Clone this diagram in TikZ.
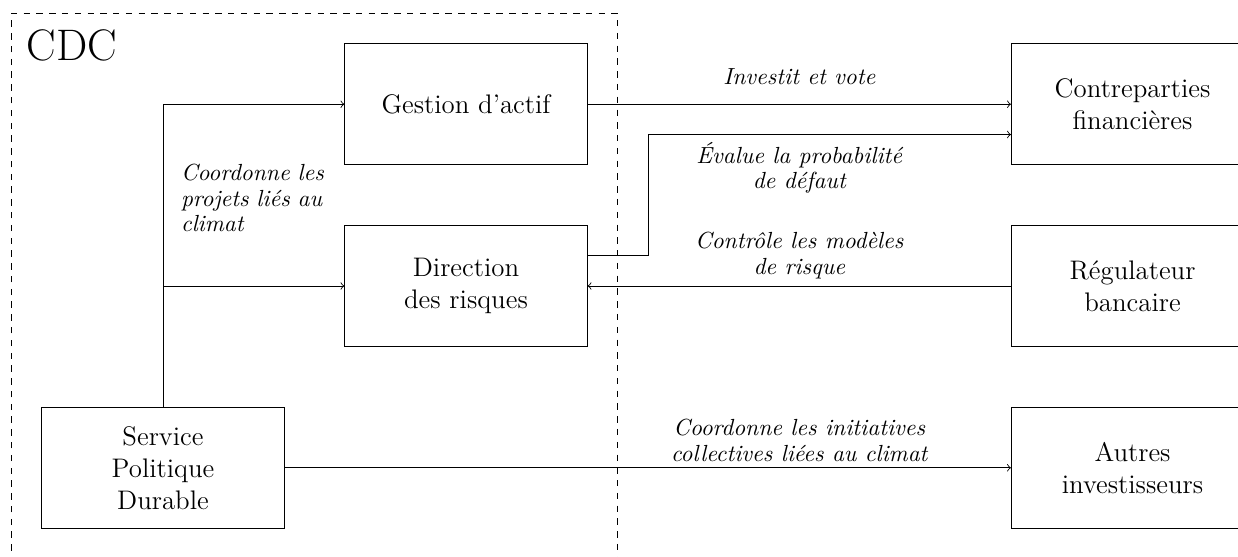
\documentclass[tikz,border=0pt,12pt]{standalone}
\usepackage{tikz}
\usetikzlibrary{positioning}

\begin{document}
\begin{tikzpicture}[
    box/.style={rectangle, draw, minimum width=4cm, minimum height=2cm, align=center, font=\fontsize{12.6}{15}\selectfont},
    lbl/.style={font=\fontsize{10.95}{12}\selectfont\itshape, align=center},
    arrow/.style={->}
]
    \useasboundingbox (-2.69,-1.47) rectangle (17.74,7.72);

    % CDC perimeter
    \draw[dashed] (-2.5,-2) rectangle (7.5,7.5);
    \node[anchor=north west, font=\LARGE] (cdc) at (-2.4,7.38) {CDC};

    % Inside CDC
    \node[box] (gestion) at (5, 6) {Gestion d’actif};
    \node[box] (direction) at (5, 3) {Direction\\des risques};
    \node[box] (service) at (0, 0) {Service\\Politique\\Durable};

    % Outside
    \node[box] (contreparties) at (16, 6) {Contreparties\\financières};
    \node[box] (regulateur) at (16, 3) {Régulateur\\bancaire};
    \node[box] (autres) at (16, 0) {Autres\\investisseurs};

    % Labels
    \node[lbl] (vote) at (10.5, 6.45) {Investit et vote};
    \node[lbl] (defaut) at (10.5, 4.95) {Évalue la probabilité\\de défaut};
    \node[lbl] (controle) at (10.5, 3.5) {Contrôle les modèles\\de risque};
    \node[lbl] (initiatives) at (10.5, 0.45) {Coordonne les initiatives\\collectives liées au climat};
    \node[lbl, align=left, text width=2.6cm, anchor=west] (projets) at (0.15, 4.45) {Coordonne les projets liés au climat};

    % Arrows
    \draw[arrow] (service.north) |- (gestion.west);
    \draw[arrow] (service.north |- direction.west) -- (direction.west);
    \draw[arrow] (gestion) -- (contreparties);
    \draw[arrow] ([yshift=0.5cm]direction.east) -- ++(1,0) |- ([yshift=-0.5cm]contreparties.west);
    \draw[arrow] (regulateur) -- (direction);
    \draw[arrow] (service) -- (autres);
\end{tikzpicture}
\end{document}
